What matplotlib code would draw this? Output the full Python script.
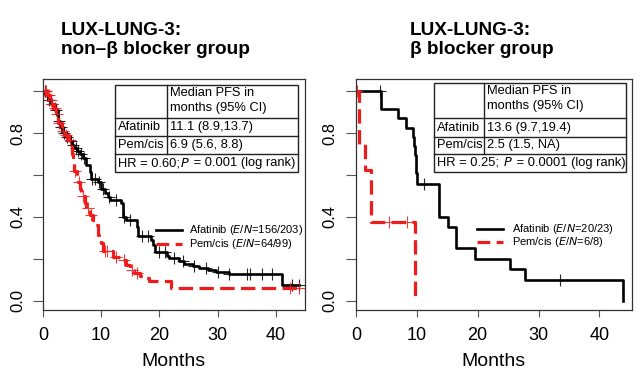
import matplotlib
matplotlib.use('Agg')
import matplotlib.pyplot as plt
import numpy as np

plt.rcParams['font.family'] = ['Liberation Sans', 'DejaVu Sans']

# ---- left panel: non-beta blocker group ----
afa1_t = [0.4, 0.9, 1.4, 2.0, 2.5, 2.9, 3.4, 4.0, 4.6, 5.0, 5.4, 5.9, 6.3, 6.9, 7.4, 8.0, 8.3,
          9.4, 10.0, 10.6, 11.1, 11.6, 13.4, 13.7, 14.2, 16.1, 16.3, 18.6, 18.9, 19.2, 21.4,
          21.7, 23.4, 24.3, 25.7, 26.9, 28.3, 29.7, 32.0, 41.0]
afa1_s = [0.98, 0.96, 0.94, 0.91, 0.86, 0.83, 0.80, 0.78, 0.76, 0.745, 0.73, 0.715, 0.70, 0.68,
          0.65, 0.615, 0.58, 0.565, 0.535, 0.515, 0.495, 0.48, 0.465, 0.40, 0.385, 0.35, 0.31,
          0.29, 0.265, 0.23, 0.215, 0.205, 0.19, 0.175, 0.163, 0.155, 0.147, 0.137, 0.127, 0.075]
afa1_end = 44.0
afa1_cens = [0.3, 0.7, 1.1, 1.6, 2.2, 2.7, 3.1, 3.6, 4.2, 4.8, 5.2, 5.6, 6.1, 6.6, 7.1, 8.5, 9.0,
             9.7, 10.3, 11.3, 12.5, 14.0, 15.0, 17.0, 18.0, 20.0, 21.0, 22.5, 24.0, 26.0, 28.0,
             30.0, 32.0, 35.1, 35.5, 37.7, 39.4, 42.8, 44.0]

pem1_t = [0.6, 1.2, 1.5, 1.8, 2.3, 2.6, 3.2, 3.7, 4.3, 4.9, 5.0, 5.15, 5.3, 5.8, 6.0, 6.3, 6.6,
          7.15, 7.4, 8.0, 8.6, 8.9, 9.4, 9.7, 10.0, 10.3, 12.0, 13.2, 14.3, 14.9, 15.7, 16.6,
          17.4, 18.3, 22.0]
pem1_s = [0.98, 0.96, 0.94, 0.92, 0.89, 0.85, 0.81, 0.79, 0.765, 0.74, 0.70, 0.66, 0.62, 0.59,
          0.567, 0.535, 0.50, 0.465, 0.44, 0.41, 0.385, 0.36, 0.315, 0.29, 0.275, 0.235, 0.21,
          0.195, 0.172, 0.148, 0.132, 0.116, 0.108, 0.092, 0.06]
pem1_end = 44.3
pem1_cens = [0.3, 0.5, 0.8, 1.0, 1.3, 1.6, 2.0, 2.4, 2.8, 3.4, 4.0, 4.6, 5.5, 6.2, 6.9, 7.8, 8.2,
             10.6, 11.0, 12.6, 14.0, 15.3, 16.2, 42.5, 44.0]

# ---- right panel: beta blocker group ----
afa2_t = [4.1, 7.0, 8.2, 9.4, 9.55, 9.7, 9.8, 9.9, 10.1, 13.7, 15.1, 16.5, 19.6, 25.3, 27.7, 43.8]
afa2_s = [0.913, 0.87, 0.826, 0.783, 0.739, 0.696, 0.652, 0.609, 0.557, 0.40, 0.35, 0.25, 0.20,
          0.15, 0.10, 0.0]
afa2_end = 43.8
afa2_cens = [4.0, 11.2, 33.5]

pem2_t = [0.55, 1.5, 2.5, 9.7]
pem2_s = [0.75, 0.625, 0.375, 0.0]
pem2_end = 9.7
pem2_cens = [0.2, 5.5, 8.4]

titles = ['LUX-LUNG-3:\nnon\u2013\u03b2 blocker group', 'LUX-LUNG-3:\n\u03b2 blocker group']
tables = [['11.1 (8.9,13.7)', '6.9 (5.6, 8.8)', 'HR = 0.60;', '= 0.001 (log rank)'],
          ['13.6 (9.7,19.4)', '2.5 (1.5, NA)', 'HR = 0.25; ', '= 0.0001 (log rank)']]
legends = [['156/203', '64/99'], ['20/23', '6/8']]

RED = '#ee1c1c'


def surv_at(times, surv, t):
    i = np.searchsorted(times, t, side='right') - 1
    return 1.0 if i < 0 else surv[i]


def km(ax, times, surv, end, cens, **kw):
    x = [0] + list(times) + [end]
    y = [1.0] + list(surv) + [surv[-1]]
    ax.step(x, y, where='post', **kw)
    cy = [surv_at(times, surv, c) for c in cens]
    ax.plot(cens, cy, '+', color=kw['color'], ms=9, mew=0.8, alpha=0.85)


fig = plt.figure(figsize=(6.4, 3.81), dpi=100)
axes = [fig.add_axes([0.0672, 0.1864, 0.409, 0.606]),
        fig.add_axes([0.556, 0.1864, 0.431, 0.606])]
data = [(afa1_t, afa1_s, afa1_end, afa1_cens, pem1_t, pem1_s, pem1_end, pem1_cens),
        (afa2_t, afa2_s, afa2_end, afa2_cens, pem2_t, pem2_s, pem2_end, pem2_cens)]
tbl_geo = [dict(x0=0.275, x1=0.973, xm=0.473, ys=[0.974, 0.831, 0.753, 0.675, 0.597]),
           dict(x0=0.283, x1=0.978, xm=0.464, ys=[0.981, 0.830, 0.750, 0.675, 0.599])]
leg_geo = [dict(l0=0.431, l1=0.531, tx=0.557, y1=0.346, y2=0.286),
           dict(l0=0.438, l1=0.532, tx=0.565, y1=0.351, y2=0.294)]
title_x = [0.095, 0.6406]
xmax = [45.0, 45.3]

for k, ax in enumerate(axes):
    at, as_, ae, ac, pt, ps, pe, pc = data[k]
    km(ax, at, as_, ae, ac, color='black', lw=1.9)
    km(ax, pt, ps, pe, pc, color=RED, lw=2.3, dashes=(4.5, 2))

    ax.set_xlim(0, xmax[k])
    ax.set_ylim(-0.045, 1.058)
    ax.set_xticks([0, 10, 20, 30, 40])
    ax.set_yticks([0.0, 0.2, 0.4, 0.6, 0.8, 1.0])
    ax.set_yticklabels(['0.0', '', '0.4', '', '0.8', ''])
    ax.tick_params(axis='y', labelrotation=90, length=7, pad=6, labelsize=12, width=0.8,
                   color='#555555')
    ax.tick_params(axis='x', length=5, pad=7, labelsize=13, width=0.8, color='#555555')
    for lab in ax.get_yticklabels():
        lab.set_va('center')
    for s in ax.spines.values():
        s.set_linewidth(0.9)
        s.set_color('#333333')
    ax.set_xlabel('Months', fontsize=14, labelpad=7)

    # table
    g = tbl_geo[k]
    tr = ax.transAxes
    ys = g['ys']
    lc = '#222222'
    ax.add_patch(plt.Rectangle((g['x0'], ys[-1]), g['x1'] - g['x0'], ys[0] - ys[-1],
                               transform=tr, fill=True, fc='white', ec=lc, lw=1.0, zorder=5))
    for yy in ys[1:-1]:
        ax.plot([g['x0'], g['x1']], [yy, yy], transform=tr, color=lc, lw=1.0, zorder=6)
    ax.plot([g['xm'], g['xm']], [ys[0], ys[3]], transform=tr, color=lc, lw=1.0, zorder=6)
    px = 0.012
    fs = 9.3
    ax.text(g['xm'] + px, ys[0] - 0.008, 'Median PFS in\nmonths (95% CI)', transform=tr,
            va='top', ha='left', fontsize=fs, linespacing=1.3, zorder=7)
    ax.text(g['x0'] + px, (ys[1] + ys[2]) / 2, 'Afatinib', transform=tr, va='center',
            fontsize=fs, zorder=7)
    ax.text(g['xm'] + px, (ys[1] + ys[2]) / 2, tables[k][0], transform=tr, va='center',
            fontsize=fs, zorder=7)
    ax.text(g['x0'] + px, (ys[2] + ys[3]) / 2, 'Pem/cis', transform=tr, va='center',
            fontsize=fs, zorder=7)
    ax.text(g['xm'] + px, (ys[2] + ys[3]) / 2, tables[k][1], transform=tr, va='center',
            fontsize=fs, zorder=7)
    t1 = ax.text(g['x0'] + px, (ys[3] + ys[4]) / 2, tables[k][2], transform=tr,
                 va='center', fontsize=fs, zorder=7)
    t2 = ax.annotate('$P$', xycoords=t1, xy=(1, 0.5), va='center', fontsize=fs, zorder=7,
                     annotation_clip=False)
    ax.annotate(' ' + tables[k][3], xycoords=t2, xy=(1, 0.5), va='center', fontsize=fs,
                zorder=7, annotation_clip=False)

    # legend
    lg = leg_geo[k]
    ax.plot([lg['l0'], lg['l1']], [lg['y1']] * 2, transform=tr, color='black', lw=1.9)
    ax.plot([lg['l0'], lg['l1']], [lg['y2']] * 2, transform=tr, color=RED, lw=2.3,
            dashes=(4, 2))
    ax.text(lg['tx'], lg['y1'], 'Afatinib ($E$/$N$=%s)' % legends[k][0], transform=tr,
            va='center', fontsize=8)
    ax.text(lg['tx'], lg['y2'], 'Pem/cis ($E$/$N$=%s)' % legends[k][1], transform=tr,
            va='center', fontsize=8)

    fig.text(title_x[k], 0.942, titles[k], fontsize=13.7, fontweight='bold', va='top',
             ha='left', linespacing=1.13)

plt.rcParams['mathtext.fontset'] = 'custom'
fig.savefig('out.png', dpi=100)
